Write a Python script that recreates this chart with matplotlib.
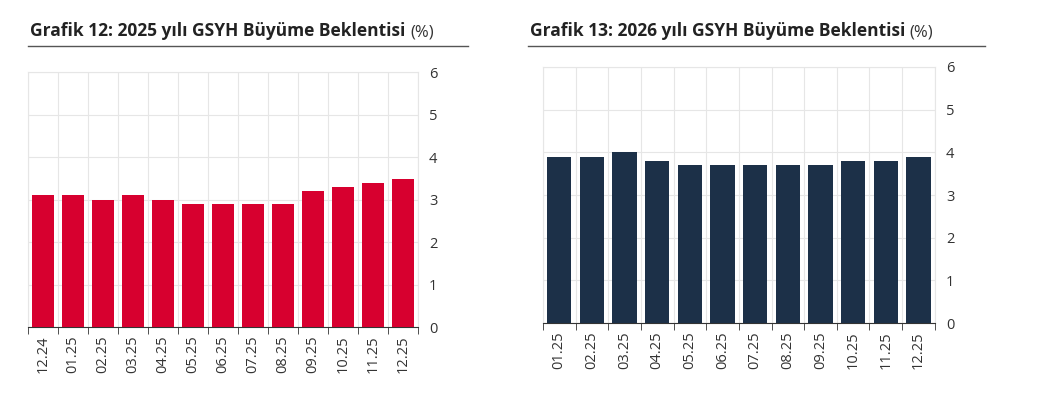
import matplotlib.pyplot as plt
import numpy as np

plt.rcParams['font.family'] = ['Open Sans', 'DejaVu Sans']

labels_25 = ['12.24', '01.25', '02.25', '03.25', '04.25', '05.25', '06.25',
             '07.25', '08.25', '09.25', '10.25', '11.25', '12.25']
values_25 = [3.1, 3.1, 3.0, 3.1, 3.0, 2.9, 2.9, 2.9, 2.9, 3.2, 3.3, 3.4, 3.5]

labels_26 = ['01.25', '02.25', '03.25', '04.25', '05.25', '06.25',
             '07.25', '08.25', '09.25', '10.25', '11.25', '12.25']
values_26 = [3.9, 3.9, 4.0, 3.8, 3.7, 3.7, 3.7, 3.7, 3.7, 3.8, 3.8, 3.9]

fig = plt.figure(figsize=(10.48, 4.11), dpi=100)


def panel(rect, labels, values, color):
    ax = fig.add_axes(rect)
    x = np.arange(len(labels))
    ax.bar(x, values, width=0.75, color=color, zorder=3)
    ax.set_xlim(-0.5, len(labels) - 0.5)
    ax.set_ylim(0, 6)
    ax.set_yticks(range(7))
    ax.yaxis.tick_right()
    ax.tick_params(axis='y', length=0, labelsize=10.5, colors='#333333', pad=8)
    ax.set_xticks(x)
    ax.set_xticklabels(labels, rotation=90, fontsize=10.5, color='#333333')
    ax.set_xticks(np.arange(-0.5, len(labels)), minor=True)
    ax.tick_params(axis='x', which='major', length=0, pad=6)
    ax.tick_params(axis='x', which='minor', length=5, color='#333333')
    ax.grid(True, axis='y', color='#e6e6e6', lw=0.8, zorder=0)
    ax.grid(True, axis='x', which='minor', color='#e6e6e6', lw=0.8, zorder=0)
    for s in ['left', 'right', 'top']:
        ax.spines[s].set_color('#e6e6e6')
    ax.spines['bottom'].set_color('#333333')
    return ax


panel([0.0267, 0.204, 0.372, 0.620], labels_25, values_25, '#D7002F')
panel([0.518, 0.214, 0.374, 0.623], labels_26, values_26, '#1C3048')


def title(x, y, bold, x2):
    t = fig.text(x, y, bold, fontsize=12.5, fontweight='bold', color='#222222')
    fig.canvas.draw()
    bb = t.get_window_extent()
    fig.text(bb.x1 / 1048 + 0.004, y, '(%)', fontsize=12, color='#333333')
    fig.add_artist(plt.Line2D([x - 0.002, x2], [0.888, 0.888], color='#555555', lw=1,
                              transform=fig.transFigure))


title(0.029, 0.912, 'Grafik 12: 2025 yılı GSYH Büyüme Beklentisi', 0.447)
title(0.506, 0.912, 'Grafik 13: 2026 yılı GSYH Büyüme Beklentisi', 0.940)

fig.savefig('out.png', dpi=100)
